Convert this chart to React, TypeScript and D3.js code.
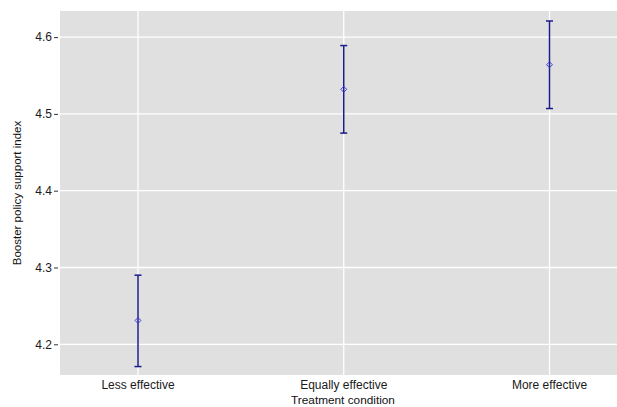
import * as d3 from 'd3'
import { useEffect, useRef } from 'react'

// condition means with 95% CI
const conditions = ['Less effective', 'Equally effective', 'More effective']
const means = [4.231, 4.532, 4.564]
const lowers = [4.171, 4.475, 4.507]
const uppers = [4.290, 4.589, 4.621]
const yTicks = [4.2, 4.3, 4.4, 4.5, 4.6]

const width = 617
const height = 407

export default function App() {
  const ref = useRef<SVGSVGElement>(null)

  useEffect(() => {
    const svg = d3.select(ref.current)
    svg.selectAll('*').remove()

    const left = 60, top = 11, bottom = 375, right = width
    const font = 'Liberation Sans, Arial, Helvetica, sans-serif'

    const x = d3.scalePoint<string>()
      .domain(conditions)
      .range([138, 549.5])
    const y = d3.scaleLinear()
      .domain([4.16, 4.634])
      .range([bottom, top])

    // panel
    svg.append('rect')
      .attr('x', left).attr('y', top)
      .attr('width', right - left).attr('height', bottom - top)
      .attr('fill', '#e0e0e0')

    // grid
    svg.append('g').selectAll('line')
      .data(yTicks)
      .join('line')
      .attr('x1', left).attr('x2', right)
      .attr('y1', d => y(d)).attr('y2', d => y(d))
      .attr('stroke', '#fff').attr('stroke-width', 1.3)
    svg.append('g').selectAll('line')
      .data(conditions)
      .join('line')
      .attr('x1', d => x(d)!).attr('x2', d => x(d)!)
      .attr('y1', top).attr('y2', bottom)
      .attr('stroke', '#fff').attr('stroke-width', 1.3)

    // y axis
    const yAxis = d3.axisLeft(y).tickValues(yTicks).tickFormat(d3.format('.1f')).tickSize(4).tickPadding(2)
    const yG = svg.append('g')
      .attr('transform', `translate(${left - 2}, 0)`)
      .call(yAxis)
    yG.select('.domain').remove()
    yG.selectAll('line').attr('stroke', '#333')
    yG.selectAll('text').attr('font-family', font).attr('font-size', 12).attr('fill', '#1a1a1a')

    // x axis labels
    svg.append('g').selectAll('text')
      .data(conditions)
      .join('text')
      .attr('x', d => x(d)!)
      .attr('y', 389)
      .attr('text-anchor', 'middle')
      .attr('font-family', font).attr('font-size', 12).attr('fill', '#1a1a1a')
      .text(d => d)

    // titles
    svg.append('text')
      .attr('x', 343).attr('y', 403.5)
      .attr('text-anchor', 'middle')
      .attr('font-family', font).attr('font-size', 11.8).attr('fill', '#111')
      .text('Treatment condition')
    svg.append('text')
      .attr('transform', `translate(21, ${(top + bottom) / 2}) rotate(-90)`)
      .attr('text-anchor', 'middle')
      .attr('font-family', font).attr('font-size', 11.5).attr('fill', '#111')
      .text('Booster policy support index')

    // error bars
    const rows = conditions.map((c, i) => ({ c, m: means[i], lo: lowers[i], hi: uppers[i] }))
    const bars = svg.append('g').attr('stroke', '#1c1c8a').attr('stroke-width', 1.5)
    bars.selectAll('line.v')
      .data(rows)
      .join('line')
      .attr('class', 'v')
      .attr('x1', d => x(d.c)!).attr('x2', d => x(d.c)!)
      .attr('y1', d => y(d.lo)).attr('y2', d => y(d.hi))
    bars.selectAll('line.hi')
      .data(rows)
      .join('line')
      .attr('class', 'hi')
      .attr('x1', d => x(d.c)! - 3.5).attr('x2', d => x(d.c)! + 3.5)
      .attr('y1', d => y(d.hi)).attr('y2', d => y(d.hi))
    bars.selectAll('line.lo')
      .data(rows)
      .join('line')
      .attr('class', 'lo')
      .attr('x1', d => x(d.c)! - 3.5).attr('x2', d => x(d.c)! + 3.5)
      .attr('y1', d => y(d.lo)).attr('y2', d => y(d.lo))

    // mean markers (open diamonds)
    const diamond = d3.symbol().type(d3.symbolDiamond2).size(22)
    svg.append('g').selectAll('path')
      .data(rows)
      .join('path')
      .attr('d', diamond)
      .attr('transform', d => `translate(${x(d.c)}, ${y(d.m)})`)
      .attr('fill', 'none')
      .attr('stroke', '#3a3ad6')
      .attr('stroke-width', 1)
  }, [])

  return (
    <svg ref={ref} width={width} height={height}
      style={{ position: 'absolute', left: 0, top: 0, background: '#fff' }} />
  )
}
